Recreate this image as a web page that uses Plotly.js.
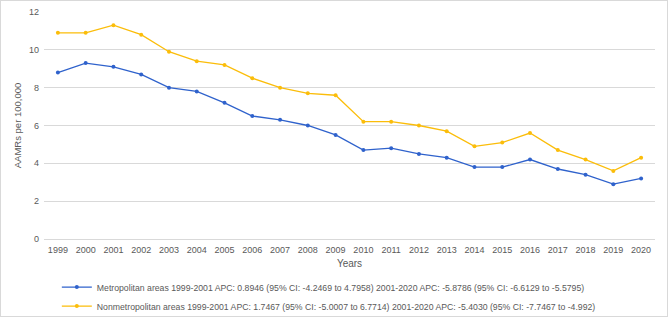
<!DOCTYPE html>
<html><head><meta charset="utf-8">
<script src="https://cdn.plot.ly/plotly-3.0.1.min.js"></script>
<style>html,body{margin:0;padding:0;background:#fff}#c{width:666px;height:315px;border:1px solid #d9d9d9}</style>
</head><body><div id="c"></div>
<script>
const years = ['1999','2000','2001','2002','2003','2004','2005','2006','2007','2008','2009','2010','2011','2012','2013','2014','2015','2016','2017','2018','2019','2020'];
const metro = [8.8,9.3,9.1,8.7,8.0,7.8,7.2,6.5,6.3,6.0,5.5,4.7,4.8,4.5,4.3,3.8,3.8,4.2,3.7,3.4,2.9,3.2];
const nonmetro = [10.9,10.9,11.3,10.8,9.9,9.4,9.2,8.5,8.0,7.7,7.6,6.2,6.2,6.0,5.7,4.9,5.1,5.6,4.7,4.2,3.6,4.3];
const metroName = 'Metropolitan areas 1999-2001 APC: 0.8946 (95% CI: -4.2469 to 4.7958) 2001-2020 APC: -5.8786 (95% CI: -6.6129 to -5.5795)';
const nonmetroName = 'Nonmetropolitan areas 1999-2001 APC: 1.7467 (95% CI: -5.0007 to 6.7714) 2001-2020 APC: -5.4030 (95% CI: -7.7467 to -4.992)';
const traces = [
 {x: years, y: metro, name: metroName, type:'scatter', mode:'lines+markers',
  line:{color:'#2f62cc', width:1.3}, marker:{color:'#2f62cc', size:4}},
 {x: years, y: nonmetro, name: nonmetroName, type:'scatter', mode:'lines+markers',
  line:{color:'#fbbd0a', width:1.3}, marker:{color:'#fbbd0a', size:4}}
];
const layout = {
 width:666, height:315,
 margin:{l:43, r:12, t:11, b:77, autoexpand:false},
 paper_bgcolor:'#fff', plot_bgcolor:'#fff',
 font:{family:'Liberation Sans, Arial, sans-serif', size:9, color:'#595959'},
 xaxis:{type:'category', range:[-0.5,21.5], showgrid:false, zeroline:false,
   showline:false, ticks:'', tickfont:{size:9, color:'#595959'}, automargin:false,
   ticklabelstandoff:4,
   title:{text:'Years', font:{size:10, color:'#595959'}, standoff:5}},
 yaxis:{range:[0,12], dtick:2, showgrid:true, gridcolor:'#d9d9d9', gridwidth:1,
   zeroline:true, zerolinecolor:'#d9d9d9', showline:false, ticks:'', ticklen:0,
   tickfont:{size:9, color:'#595959'}, automargin:false, ticklabelstandoff:4,
   title:{text:'AAMRs per 100,000', font:{size:9.5, color:'#595959'}, standoff:5}},
 showlegend:true,
 legend:{orientation:'v', x:0.021, xanchor:'left', y:-0.148, yanchor:'top',
   font:{size:8.7, color:'#595959'}, tracegroupgap:0, itemwidth:30, bgcolor:'rgba(0,0,0,0)'},
};
Plotly.newPlot('c', traces, layout, {displayModeBar:false, staticPlot:true});
</script></body></html>
